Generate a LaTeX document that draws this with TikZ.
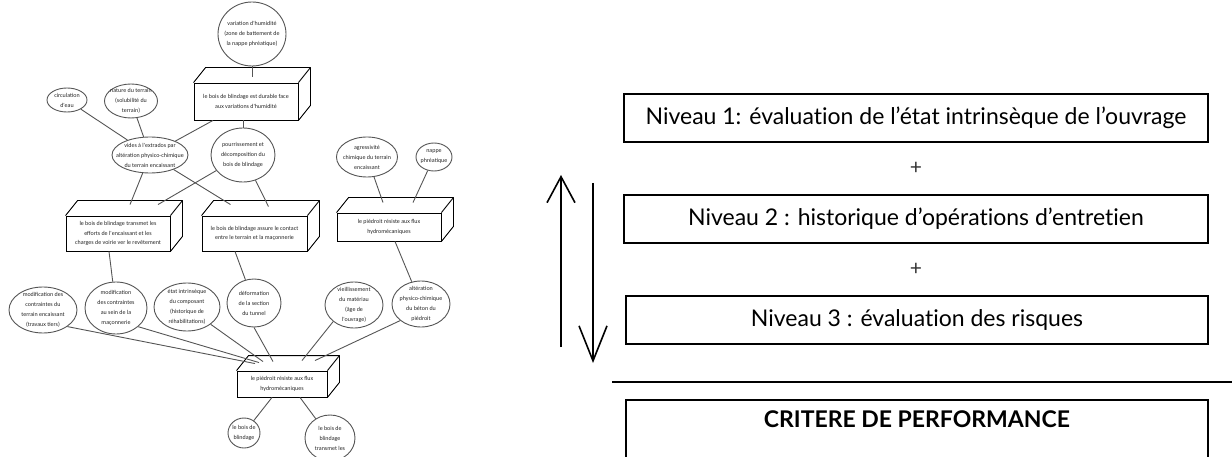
\documentclass[tikz,border=0pt]{standalone}
\usepackage{fontspec}
\setmainfont{Lato}[Ligatures={TeX,NoCommon}]
\newfontfamily\petitefonte{Carlito}
\usetikzlibrary{shapes.geometric, arrows.meta, calc}
\definecolor{trait}{RGB}{85,85,85}
\tikzset{
    cause/.style={ellipse, draw=trait, line width=0.9pt, inner sep=-10pt, align=center,
        font=\petitefonte\fontsize{6}{10}\selectfont, text=black!85},
    bloc/.style={rectangle, draw=black, line width=0.9pt, inner sep=0pt, align=center,
        font=\petitefonte\fontsize{6}{9.5}\selectfont, text=black!85},
    taille/.style 2 args={minimum width=#1pt, minimum height=#2pt},
    face/.style={draw=black, line width=0.9pt, line join=round},
    lien/.style={draw=trait, line width=0.9pt},
    niveau/.style={rectangle, draw=black, line width=1.3pt, minimum width=584pt,
        minimum height=48pt, font=\fontsize{23}{26}\selectfont},
    signe/.style={font=\fontsize{21}{24}\selectfont\mdseries, text=black!80},
    fleche/.style={line width=1.6pt, -{Straight Barb[length=#1pt, width=28pt]}}
}
% faces du dessus et de droite d'un bloc
\newcommand{\cubefaces}[1]{%
    \draw[face] (#1.north west) -- ([shift={(12,-15)}]#1.north west)
        -- ([shift={(12,-15)}]#1.north east) -- ([shift={(12,-15)}]#1.south east)
        -- (#1.south east);
    \draw[face] (#1.north east) -- ([shift={(12,-15)}]#1.north east);
}

\begin{document}
\begin{tikzpicture}[x=1pt, y=-1pt]
    \useasboundingbox (0,0) rectangle (1232,457);

    % ---------- Arbre : haut ----------
    \node[cause, taille={68}{64}] (humid) at (252,34) {variation d'humidité\\(zone de battement de\\la nappe phréatique)};
    \node[bloc, taille={104}{37}] (durable) at (246,101.5) {le bois de blindage est durable face\\aux variations d'humidité};
    \cubefaces{durable}

    \node[cause, taille={40}{24}] (circ) at (67,100) {circulation\\d'eau};
    \node[cause, taille={53}{34}] (nature) at (131,101) {nature du terrain\\(solubilité du\\terrain)};
    \node[cause, taille={76}{36}] (vides) at (150,155) {vides à l'extrados par\\altération physico-chimique\\du terrain encaissant};
    \node[cause, taille={64}{54}] (pourr) at (243,155) {pourrissement et\\décomposition du\\bois de blindage};
    \node[cause, taille={61}{40}] (agress) at (367,157) {agressivité\\chimique du terrain\\encaissant};
    \node[cause, taille={36}{28}] (nappe) at (434,157) {nappe\\phréatique};

    \draw[lien] (humid) -- ([shift={(6,-6)}]durable.north);
    \draw[lien] ([shift={(-33,0)}]durable.south) -- (vides);
    \draw[lien] ([shift={(-3,0)}]durable.south) -- (pourr);
    \draw[lien] (circ) -- (vides);
    \draw[lien] (nature) -- (vides);

    % ---------- Arbre : milieu ----------
    \node[bloc, taille={104}{35}] (transmet) at (118,233.5) {le bois de blindage transmet les\\efforts de l'encaissant et les\\charges de voirie ver le revêtement};
    \cubefaces{transmet}
    \node[bloc, taille={105}{35}] (contact) at (254.5,233.5) {le bois de blindage assure le contact\\entre le terrain et la maçonnerie};
    \cubefaces{contact}
    \node[bloc, taille={104}{28}] (piedA) at (389,227) {le piédroit résiste aux flux\\hydromécaniques};
    \cubefaces{piedA}

    \draw[lien] (vides) -- ([shift={(12,-11)}]transmet.north);
    \draw[lien] (vides) -- ([shift={(-24,-11)}]contact.north);
    \draw[lien] (pourr) -- ([shift={(40,-11)}]transmet.north);
    \draw[lien] (pourr) -- ([shift={(14,-9)}]contact.north);
    \draw[lien] (agress) -- ([shift={(-6,-10)}]piedA.north);
    \draw[lien] (nappe) -- ([shift={(24,-10)}]piedA.north);

    % ---------- Arbre : bas ----------
    \node[cause, taille={68}{46}] (modcont) at (43,310) {modification des\\contraintes du\\terrain encaissant\\(travaux tiers)};
    \node[cause, taille={62}{52}] (modmac) at (116,308) {modification\\des contraintes\\au sein de la\\maçonnerie};
    \node[cause, taille={66}{48}] (etat) at (187,307) {état intrinsèque\\du composant\\(historique de\\réhabilitations)};
    \node[cause, taille={54}{48}] (deform) at (254,303) {déformation\\de la section\\du tunnel};
    \node[cause, taille={58}{46}] (vieil) at (354,305) {vieillissement\\du matériau\\(âge de\\l'ouvrage)};
    \node[cause, taille={58}{46}] (alter) at (421,304) {altération\\physico-chimique\\du béton du\\piédroit};

    \draw[lien] ([shift={(-9,0)}]transmet.south) -- (modmac);
    \draw[lien] ([shift={(-19.5,0)}]contact.south) -- (deform);
    \draw[lien] ([shift={(6,0)}]piedA.south) -- (alter);

    \node[bloc, taille={90}{26}] (piedB) at (282,384) {le piédroit résiste aux flux\\hydromécaniques};
    \cubefaces{piedB}

    \draw[lien] (modcont.south east) -- ([shift={(-27,-7)}]piedB.north);
    \draw[lien] (modmac.south east) -- ([shift={(-23,-8)}]piedB.north);
    \draw[lien] (etat.south east) -- ([shift={(-19,-9)}]piedB.north);
    \draw[lien] (deform.south) -- ([shift={(-9,-9)}]piedB.north);
    \draw[lien] (vieil.south west) -- ([shift={(20,-10)}]piedB.north);
    \draw[lien] (alter.south west) -- ([shift={(33,-10)}]piedB.north);

    \node[cause, taille={32}{30}] (bois) at (244,433) {le bois de\\blindage};
    \node[cause, taille={50}{46}] (boistr) at (330,438) {le bois de\\blindage\\transmet les};

    \draw[lien] ([shift={(-10,0)}]piedB.south) -- (bois);
    \draw[lien] ([shift={(18,0)}]piedB.south) -- (boistr);

    % ---------- Niveaux ----------
    \node[niveau] (niv1) at (916,118) {Niveau 1: évaluation de l’état intrinsèque de l’ouvrage};
    \node[signe] (plus1) at (916,168) {+};
    \node[niveau] (niv2) at (916,219) {Niveau 2 : historique d’opérations d’entretien};
    \node[signe] (plus2) at (916,269) {+};
    \node[niveau, minimum width=582pt] (niv3) at (917,320) {Niveau 3 : évaluation des risques};

    \coordinate (monteB) at (561,347);
    \coordinate (monteH) at (561,175);
    \coordinate (descH) at (593,183);
    \coordinate (descB) at (593,363);
    \draw[fleche=26] (monteB) -- (monteH);
    \draw[fleche=35] (descH) -- (descB);

    % ---------- Critere ----------
    \coordinate (sepG) at (612,382);
    \coordinate (sepD) at (1232,382);
    \draw[line width=2.5pt] (sepG) -- (sepD);
    \draw[line width=1.3pt] (626,400) rectangle (1208,480);
    \node[font=\fontsize{23}{26}\selectfont\bfseries] (critere) at (917,419) {CRITERE DE PERFORMANCE};
\end{tikzpicture}
\end{document}
